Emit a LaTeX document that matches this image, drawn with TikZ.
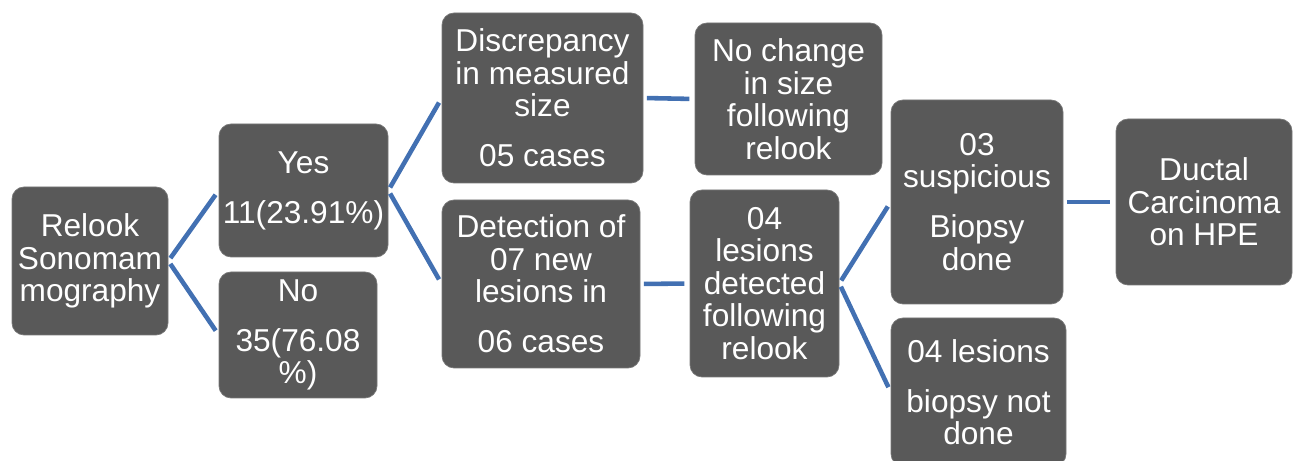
\documentclass[tikz,border=0pt]{standalone}
\usepackage{fontspec}
\setmainfont{Liberation Sans}
\usepackage{tikz}
\usetikzlibrary{positioning,calc}
\definecolor{BoxGray}{RGB}{89,89,89}
\definecolor{EdgeGray}{RGB}{120,120,120}
\definecolor{LinkBlue}{RGB}{66,112,178}

\begin{document}
\begin{tikzpicture}[
    stage/.style={draw=EdgeGray,line width=.4pt,fill=BoxGray,rounded corners=.24cm,
      text=white,align=center,inner sep=1pt,font=\fontsize{18}{18.5}\selectfont},
    link/.style={LinkBlue,line width=2.6pt,shorten <=2pt,shorten >=3pt}]
  \useasboundingbox (0,0) rectangle (25.88,-9.22);
  \node[stage,minimum width=3.12cm,minimum height=2.96cm] (relook) at (1.80,-5.22)
    {Relook\\Sonomam\\mography};
  \node[stage,minimum width=3.38cm,minimum height=2.66cm] (yes) at (6.07,-3.81)
    {Yes\\[10pt]11(23.91\%)};
  \node[stage,minimum width=3.16cm,minimum height=2.52cm] (no) at (5.96,-6.70)
    {No\\[10pt]35(76.08\\\%)};
  \node[stage,minimum width=4.02cm,minimum height=3.40cm] (discrep) at (10.85,-1.96)
    {Discrepancy\\in measured\\size\\[10pt]05 cases};
  \node[stage,minimum width=3.96cm,minimum height=3.36cm] (detect) at (10.82,-5.68)
    {Detection of\\07 new\\lesions in\\[10pt]06 cases};
  \node[stage,minimum width=3.74cm,minimum height=3.04cm] (nochange) at (15.77,-1.98)
    {No change\\in size\\following\\relook};
  \node[stage,minimum width=2.98cm,minimum height=3.74cm] (found) at (15.29,-5.67)
    {04\\lesions\\detected\\following\\relook};
  \node[stage,minimum width=3.44cm,minimum height=4.08cm] (suspect) at (19.54,-4.04)
    {03\\suspicious\\[10pt]Biopsy\\done};
  \node[stage,minimum width=3.50cm,minimum height=2.96cm] (nobiopsy) at (19.57,-7.84)
    {04 lesions\\[10pt]biopsy not\\done};
  \node[stage,minimum width=3.52cm,minimum height=3.32cm] (ductal) at (24.08,-4.04)
    {Ductal\\Carcinoma\\on HPE};

  \draw[link] (relook.east) -- (yes.west);
  \draw[link] (relook.east) -- (no.west);
  \draw[link] (yes.east) -- (discrep.west);
  \draw[link] (yes.east) -- (detect.west);
  \draw[link] (discrep.east) -- (nochange.west);
  \draw[link] (detect.east) -- (found.west);
  \draw[link] (found.east) -- (suspect.west);
  \draw[link] (found.east) -- (nobiopsy.west);
  \draw[link] (suspect.east) -- (ductal.west);
\end{tikzpicture}
\end{document}
